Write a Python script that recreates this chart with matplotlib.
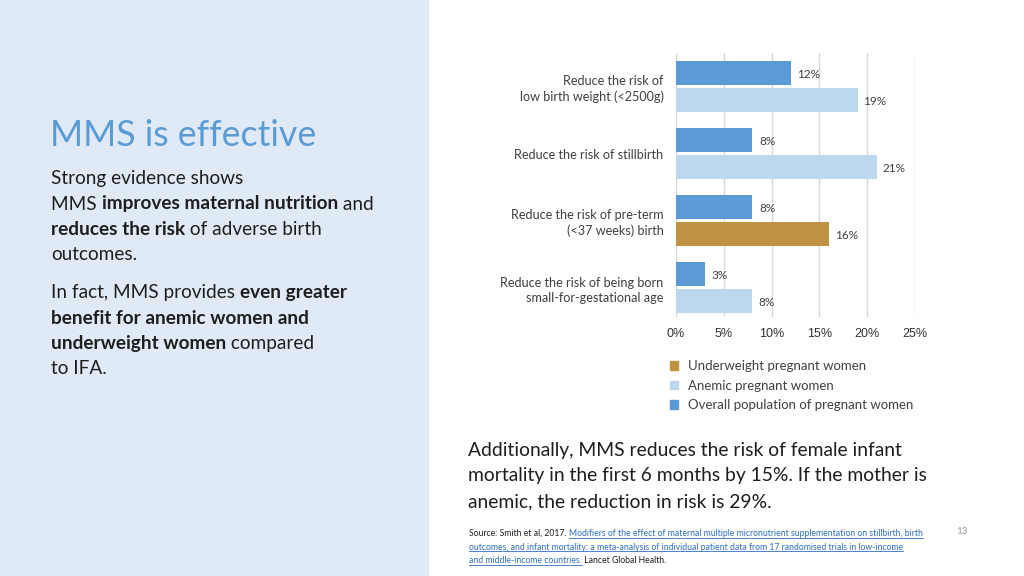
import matplotlib
matplotlib.use("Agg")
import matplotlib.pyplot as plt
from matplotlib.patches import Rectangle, Polygon
from matplotlib.lines import Line2D
import numpy as np

# ---------------- data ----------------
categories = [
    "Reduce the risk of\nlow birth weight (<2500g)",
    "Reduce the risk of stillbirth",
    "Reduce the risk of pre-term\n(<37 weeks) birth",
    "Reduce the risk of being born\nsmall-for-gestational age",
]
overall_values = [12, 8, 8, 3]
subgroup_values = [19, 21, 16, 8]
subgroup_kind = ["anemic", "anemic", "underweight", "anemic"]
x_ticks = [0, 5, 10, 15, 20, 25]
x_tick_labels = ["0%", "5%", "10%", "15%", "20%", "25%"]
legend_labels = [
    "Underweight pregnant women",
    "Anemic pregnant women",
    "Overall population of pregnant women",
]

# ---------------- style ----------------
W, H = 1024, 576
C_DARK = "#5b9bd5"
C_LIGHT = "#bdd7ee"
C_GOLD = "#bf9341"
C_PANEL = "#dfeaf6"
C_TEXT = "#1e1e1e"
C_GREY = "#404040"
C_LINK = "#2e6fc0"
FONT = "Lato"
kind_color = {"anemic": C_LIGHT, "underweight": C_GOLD}

fig = plt.figure(figsize=(W / 100, H / 100), dpi=100)
fig.patches.append(Rectangle((0, 0), 428 / W, 1, transform=fig.transFigure,
                             color=C_PANEL, zorder=0))
renderer = fig.canvas.get_renderer()


def fx(px):
    return px / W


def fy(py):
    return 1 - py / H


def text_width(s, size, weight="normal", family=FONT):
    t = fig.text(0, 0, s, fontsize=size, fontweight=weight, family=family)
    w = t.get_window_extent(renderer).width
    t.remove()
    return w


def runs_width(parts, size):
    total = 0
    for s, wt in parts:
        total += text_width(s.replace(" ", "\u00a0"), size, wt)
    return total


def fit_size(parts, target_px, base=10.0):
    return base * target_px / runs_width(parts, base)


def draw_runs(x_px, y_px, parts, size, colors=None, underline=None):
    cx = x_px
    for i, (s, wt) in enumerate(parts):
        col = colors[i] if colors else C_TEXT
        s2 = s.replace(" ", "\u00a0")
        t = fig.text(fx(cx), fy(y_px), s2, fontsize=size, fontweight=wt,
                     family=FONT, color=col, va="baseline", ha="left")
        w = t.get_window_extent(renderer).width
        if underline and underline[i]:
            s_strip = s.rstrip()
            wu = text_width(s_strip.replace(" ", "\u00a0"), size, wt)
            fig.add_artist(Line2D([fx(cx), fx(cx + wu)],
                                  [fy(y_px + 1.6), fy(y_px + 1.6)],
                                  color=col, lw=0.6))
        cx += w


# ---------------- left panel text ----------------
title = "MMS is effective"
ts = fit_size([(title, "normal")], 267)
fig.text(fx(50), fy(146), title, fontsize=ts, family=FONT, color=C_DARK,
         va="baseline")

para1 = [
    [("Strong evidence shows", "normal")],
    [("MMS ", "normal"), ("improves maternal nutrition", "bold"), (" and", "normal")],
    [("reduces the risk", "bold"), (" of adverse birth", "normal")],
    [("outcomes.", "normal")],
]
para2 = [
    [("In fact, MMS provides ", "normal"), ("even greater", "bold")],
    [("benefit for anemic women and", "bold")],
    [("underweight women", "bold"), (" compared", "normal")],
    [("to IFA.", "normal")],
]
bs = fit_size(para1[1], 322)
for i, line in enumerate(para1):
    draw_runs(51, 184 + 25.5 * i, line, bs)
for i, line in enumerate(para2):
    draw_runs(51, 298 + 25.5 * i, line, bs)

# ---------------- chart ----------------
ax = fig.add_axes([fx(676), fy(317), (915 - 676) / W, (317 - 53) / H])
y = np.arange(len(categories))
off, bh = 0.2, 0.36
ax.barh(y - off, overall_values, height=bh, color=C_DARK, zorder=3)
ax.barh(y + off, subgroup_values, height=bh,
        color=[kind_color[k] for k in subgroup_kind], zorder=3)
for yi, v in zip(y - off, overall_values):
    ax.text(v + 0.7, yi + 0.02, f"{v}%", va="center", ha="left", fontsize=8.5,
            family=FONT, color=C_GREY)
for yi, v in zip(y + off, subgroup_values):
    ax.text(v + 0.6, yi + 0.03, f"{v}%", va="center", ha="left", fontsize=8.5,
            family=FONT, color=C_GREY)

ax.set_xlim(0, 25)
ax.set_ylim(3.44, -0.5)
ax.set_xticks(x_ticks)
ax.set_xticklabels(x_tick_labels, family="Liberation Sans", fontsize=9,
                   color="#333333")
ax.set_yticks(y)
ax.set_yticklabels(categories, family=FONT, fontsize=9.1, color=C_GREY,
                   linespacing=1.3)
ax.tick_params(axis="both", length=0)
ax.tick_params(axis="x", pad=8)
ax.tick_params(axis="y", pad=9)
ax.xaxis.grid(True, color="#d9d9d9", lw=1, zorder=0)
ax.set_axisbelow(True)
for sp in ax.spines.values():
    sp.set_visible(False)

# legend
handles = [Rectangle((0, 0), 1, 1, color=c) for c in (C_GOLD, C_LIGHT, C_DARK)]
fig.legend(handles, legend_labels, loc="upper left",
           bbox_to_anchor=(fx(670), fy(360)), frameon=False,
           handlelength=0.62, handleheight=0.62, handletextpad=0.75,
           labelspacing=0.58, borderpad=0, borderaxespad=0,
           prop={"family": FONT, "size": 9.5}, labelcolor=C_GREY)

# ---------------- bottom text ----------------
bottom_lines = [
    "Additionally, MMS reduces the risk of female infant",
    "mortality in the first 6 months by 15%. If the mother is",
    "anemic, the reduction in risk is 29%.",
]
bts = fit_size([(bottom_lines[0], "normal")], 434)
for i, s in enumerate(bottom_lines):
    fig.text(fx(468), fy(456 + 25.5 * i), s, fontsize=bts, family=FONT,
             color=C_TEXT, va="baseline")

src_lines = [
    [("Source: Smith et al, 2017. ", "normal"),
     ("Modifiers of the effect of maternal multiple micronutrient supplementation on stillbirth, birth", "normal")],
    [("outcomes, and infant mortality: a meta-analysis of individual patient data from 17 randomised trials in low-income", "normal")],
    [("and middle-income countries.", "normal"), (" Lancet Global Health.", "normal")],
]
src_cols = [[C_TEXT, C_LINK], [C_LINK], [C_LINK, C_TEXT]]
src_ul = [[False, True], [True], [True, False]]
ss = fit_size(src_lines[0], 451)
for i, line in enumerate(src_lines):
    draw_runs(469, 536 + 13.5 * i, line, ss, colors=src_cols[i],
              underline=src_ul[i])

fig.text(fx(956), fy(534), "13", fontsize=7, family=FONT, color="#9a9a9a",
         va="baseline")

# ---------------- logo ----------------
lax = fig.add_axes([fx(57), fy(553), 46 / W, 46 / H])
lax.set_xlim(-1.05, 1.05)
lax.set_ylim(-1.05, 1.05)
lax.set_aspect("equal")
lax.axis("off")
logo_cols = ["#4a2b7d", "#9fcbe8", "#2c6e95", "#6aaed8"]
n = 16
for k in range(n):
    a = 2 * np.pi * k / n + 0.2
    r_out = 1.0 if k % 2 == 0 else 0.82
    pts = [(0.2 * np.cos(a + 0.5), 0.2 * np.sin(a + 0.5)),
           (r_out * np.cos(a - 0.13), r_out * np.sin(a - 0.13)),
           (r_out * np.cos(a + 0.17), r_out * np.sin(a + 0.17))]
    lax.add_patch(Polygon(pts, closed=True, color=logo_cols[k % 4], lw=0))

fig.savefig("out.png", dpi=100)
